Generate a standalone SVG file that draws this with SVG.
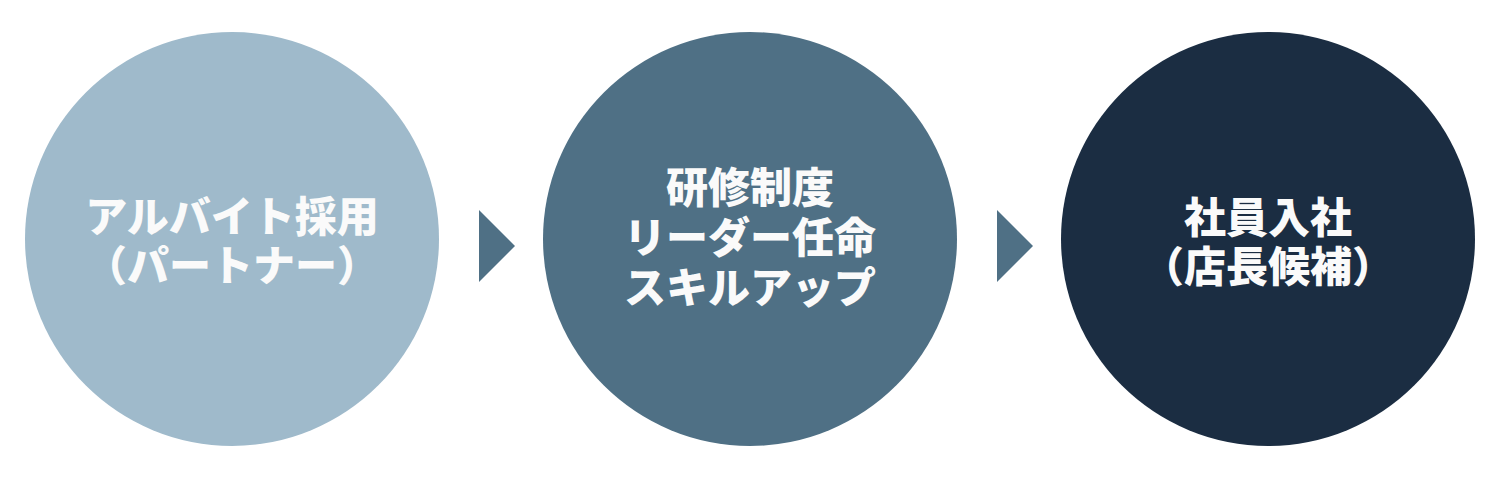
<svg xmlns="http://www.w3.org/2000/svg" width="1500" height="481" viewBox="0 0 1500 481">
<style>
.t{font-family:"Noto Sans CJK JP","Noto Sans CJK SC",sans-serif;font-weight:900;font-size:42px;fill:#fafafa;text-anchor:middle}
.arr{fill:#4f7085}
</style>
<rect width="1500" height="481" fill="#ffffff"/>
<g id="node1">
<circle cx="232" cy="239" r="207" fill="#9fbacb"/>
<text class="t" x="232" y="232">アルバイト採用</text>
<text class="t" x="232" y="281">（パートナー）</text>
</g>
<g id="node2">
<circle cx="750" cy="239" r="207" fill="#4f7085"/>
<text class="t" x="750" y="203">研修制度</text>
<text class="t" x="750" y="253">リーダー任命</text>
<text class="t" x="750" y="303">スキルアップ</text>
</g>
<g id="node3">
<circle cx="1268" cy="239" r="207" fill="#1b2d42"/>
<text class="t" x="1268" y="233">社員入社</text>
<text class="t" x="1268" y="282">（店長候補）</text>
</g>
<g id="connectors">
<polygon class="arr" points="479,210 515,246 479,282"/>
<polygon class="arr" points="997,210 1033,246 997,282"/>
</g>
</svg>
